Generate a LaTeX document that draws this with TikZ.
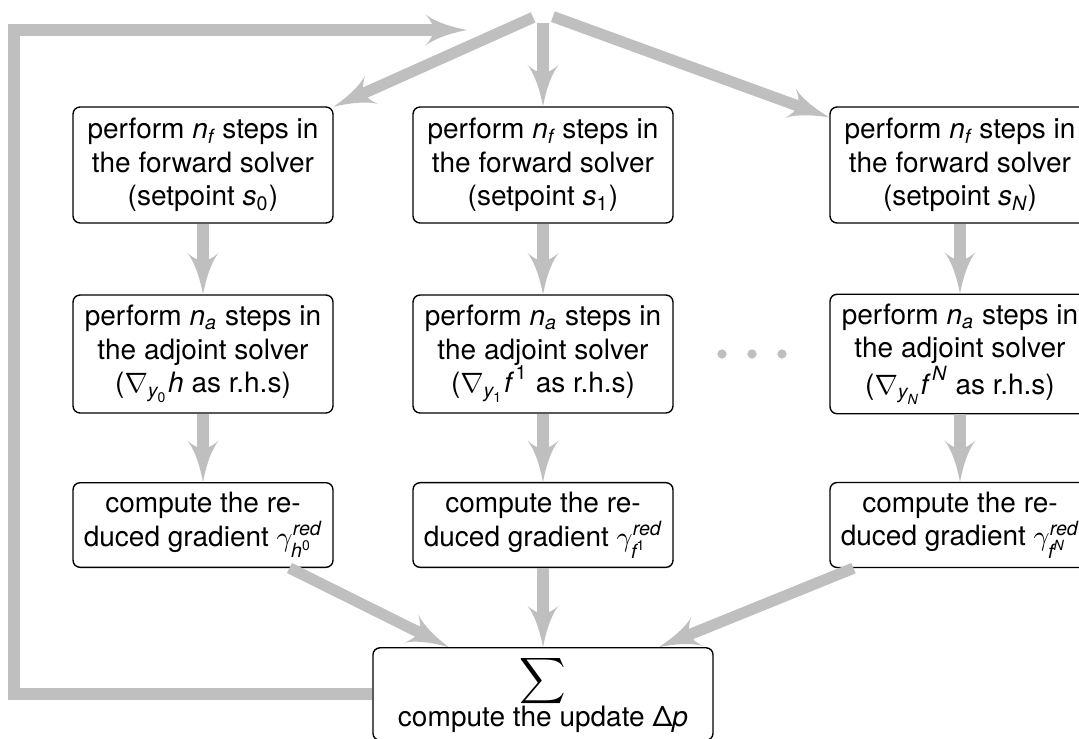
\documentclass[tikz,border=0pt]{standalone}
\usepackage{amsmath}
\usepackage{fontspec}
\setmainfont{TeX Gyre Heros}
\usetikzlibrary{arrows}

% sans italic letters and sans digits inside formulas
\newcommand{\mi}[1]{\textit{#1}}
\newcommand{\nm}[1]{\text{#1}}

\begin{document}
\begin{tikzpicture}[x=0.357pt,y=-0.357pt,
  stepbox/.style={draw, line width=0.5pt, rounded corners=2.5pt, align=center,
                  minimum width=92.8pt, inner sep=3.33pt},
  flow/.style={draw=gray!50, line width=4pt, -latex'},
  dot/.style={circle, fill=gray!50, inner sep=0pt, minimum size=3.3pt}]

\useasboundingbox (0,0) rectangle (1079,738);

% distribution point at the top
\node (top) at (543,13) {};

% forward solves
\node[stepbox, minimum height=41.4pt] (f0) at (203,165)
  {perform $\mi{n}_{\mi{f}}$ steps in\\ the forward solver\\ (setpoint $\mi{s}_{\nm{0}}$)};
\node[stepbox, minimum height=41.4pt] (f1) at (543,165)
  {perform $\mi{n}_{\mi{f}}$ steps in\\ the forward solver\\ (setpoint $\mi{s}_{\nm{1}}$)};
\node[stepbox, minimum height=41.4pt] (fN) at (960,165)
  {perform $\mi{n}_{\mi{f}}$ steps in\\ the forward solver\\ (setpoint $\mi{s}_{\mi{N}}$)};

% adjoint solves
\node[stepbox, minimum height=42.1pt] (a0) at (203,354)
  {perform $\mi{n}_{\mi{a}}$ steps in\\ the adjoint solver\\ ($\nabla_{\mi{y}_{\nm{0}}}\mi{h}$ as r.h.s)};
\node[stepbox, minimum height=42.1pt] (a1) at (543,354)
  {perform $\mi{n}_{\mi{a}}$ steps in\\ the adjoint solver\\ ($\nabla_{\mi{y}_{\nm{1}}}\mi{f}^{\,\nm{1}}$ as r.h.s)};
\node[stepbox, minimum height=42.1pt] (aN) at (960,354)
  {perform $\mi{n}_{\mi{a}}$ steps in\\ the adjoint solver\\ ($\nabla_{\mi{y}_{\mi{N}}}\mi{f}^{\,\mi{N}}$ as r.h.s)};

% reduced gradients
\node[stepbox, minimum height=30pt] (g0) at (203,525)
  {compute the re-\\ duced gradient $\gamma^{\mi{red}}_{\mi{h}^{\nm{0}}}$};
\node[stepbox, minimum height=30pt] (g1) at (543,525)
  {compute the re-\\ duced gradient $\gamma^{\mi{red}}_{\mi{f}^{\nm{1}}}$};
\node[stepbox, minimum height=30pt] (gN) at (960,525)
  {compute the re-\\ duced gradient $\gamma^{\mi{red}}_{\mi{f}^{\mi{N}}}$};

% sum of all gradients
\node[stepbox, minimum width=121.4pt, minimum height=33pt, inner sep=2pt] (sum) at (543,694)
  {\scalebox{1.15}{$\displaystyle\sum$}\\[-1pt] compute the update Δ\textit{p}};

% further setpoints omitted
\node[dot] (d1) at (722,354) {};
\node[dot] (d2) at (752,354) {};
\node[dot] (d3) at (782,354) {};

% feedback path
\coordinate (corner) at (14,30);
\coordinate (back) at (467,30);

\draw[flow] (top) -- (f0);
\draw[flow] (top) -- (f1);
\draw[flow] (top) -- (fN);
\draw[flow] (f0) -- (a0);
\draw[flow] (f1) -- (a1);
\draw[flow] (fN) -- (aN);
\draw[flow] (a0) -- (g0);
\draw[flow] (a1) -- (g1);
\draw[flow] (aN) -- (gN);
\draw[flow] (g0) -- (sum);
\draw[flow] (g1) -- (sum);
\draw[flow] (gN) -- (sum);
\draw[flow] (sum.west) -| (corner) -- (back);
\end{tikzpicture}
\end{document}
